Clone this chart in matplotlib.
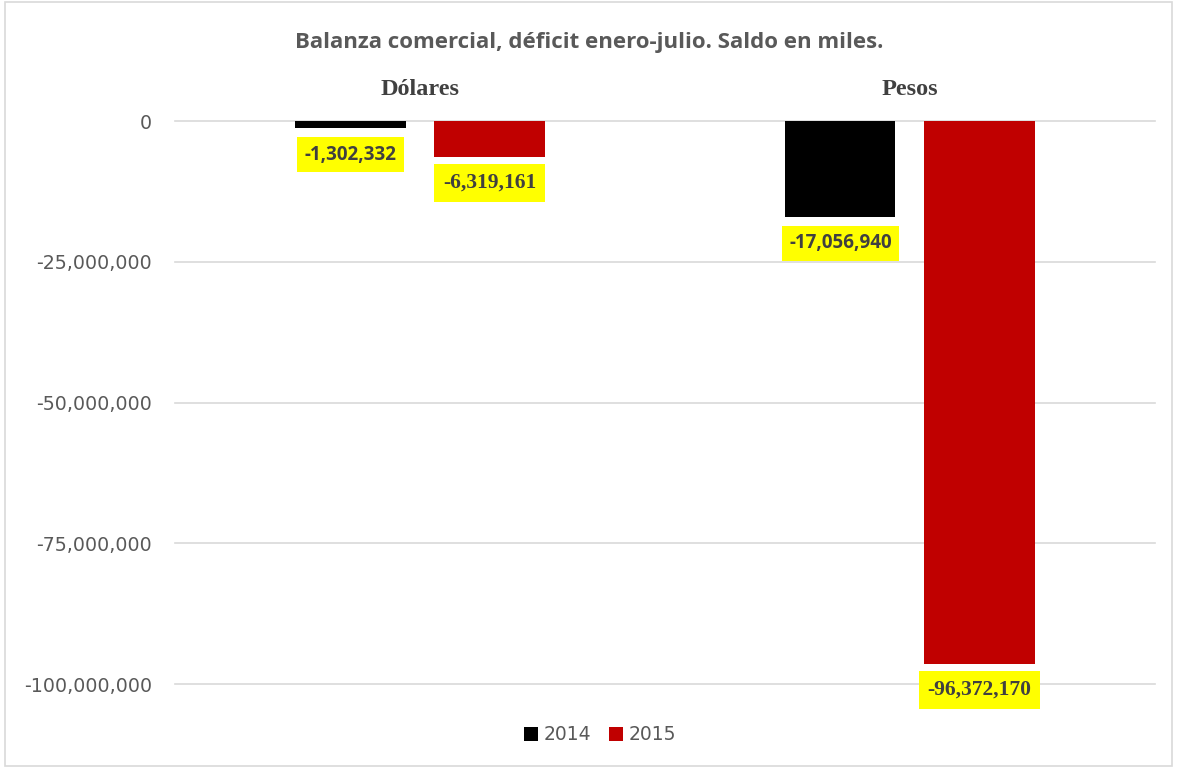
import matplotlib
matplotlib.use("Agg")
import matplotlib.pyplot as plt
from matplotlib.patches import Rectangle
import numpy as np

categories = ["Dólares", "Pesos"]
series_names = ["2014", "2015"]
values_2014 = [-1302332, -17056940]
values_2015 = [-6319161, -96372170]
yticks = [0, -25000000, -50000000, -75000000, -100000000]
title = "Balanza comercial, déficit enero-julio. Saldo en miles."

colors = ["#000000", "#C00000"]
grey = "#595959"

fig = plt.figure(figsize=(11.79, 7.71), dpi=100)
ax = fig.add_axes([0.1484, 0.1128, 0.8312, 0.7302])

x = np.arange(len(categories))
off = 0.142
w = 0.225
b1 = ax.bar(x - off, values_2014, w, color=colors[0], label=series_names[0], zorder=3)
b2 = ax.bar(x + off, values_2015, w, color=colors[1], label=series_names[1], zorder=3)

ax.set_xlim(-0.5, 1.5)
ax.set_ylim(-100000000, 0)
ax.set_yticks(yticks)
ax.set_yticklabels([f"{v:,.0f}" for v in yticks], color=grey, fontsize=13.7)
ax.tick_params(axis="y", length=0, pad=16.5)
ax.tick_params(axis="x", length=0)
ax.set_xticks([])
for s in ax.spines.values():
    s.set_visible(False)
for yt in yticks:
    ax.axhline(yt, color="#d9d9d9", linewidth=1.2, zorder=0, clip_on=False)

# category labels at top
for xi, cat in zip(x, categories):
    ax.annotate(cat, xy=(xi, 1.0), xycoords=("data", "axes fraction"),
                xytext=(0, 23), textcoords="offset points", ha="center", va="center",
                fontsize=17.5, fontweight="bold", color="#404040", family="Liberation Serif")

# data labels
def label(bars, vals, fam, fs):
    for rect, v in zip(bars, vals):
        cx = rect.get_x() + rect.get_width() / 2
        ax.annotate(f"{v:,.0f}", xy=(cx, v), xytext=(0, -19), textcoords="offset points",
                    ha="center", va="center", fontsize=fs, fontweight="bold",
                    color="#404040", family=fam, annotation_clip=False, zorder=5,
                    bbox=dict(boxstyle="square,pad=0.4", fc="#FFFF00", ec="none"))

label(b1, values_2014, "Open Sans", 13.5)
label(b2, values_2015, "Liberation Serif", 15.5)

fig.text(0.5, 0.9455, title, ha="center", va="center", fontsize=16,
         fontweight="bold", color=grey, family="Open Sans")

leg = fig.legend(handles=[b1, b2], labels=series_names, loc="center",
                 bbox_to_anchor=(0.509, 0.047), ncol=2, frameon=False,
                 fontsize=13.5, handlelength=0.75, handleheight=0.75,
                 columnspacing=0.9, handletextpad=0.3)
for t in leg.get_texts():
    t.set_color(grey)

fig.patches.append(Rectangle((0.004, 0.006), 0.99, 0.992, transform=fig.transFigure,
                             fill=False, ec="#d9d9d9", lw=1.2))

fig.savefig("out.png", dpi=100, facecolor="white")
